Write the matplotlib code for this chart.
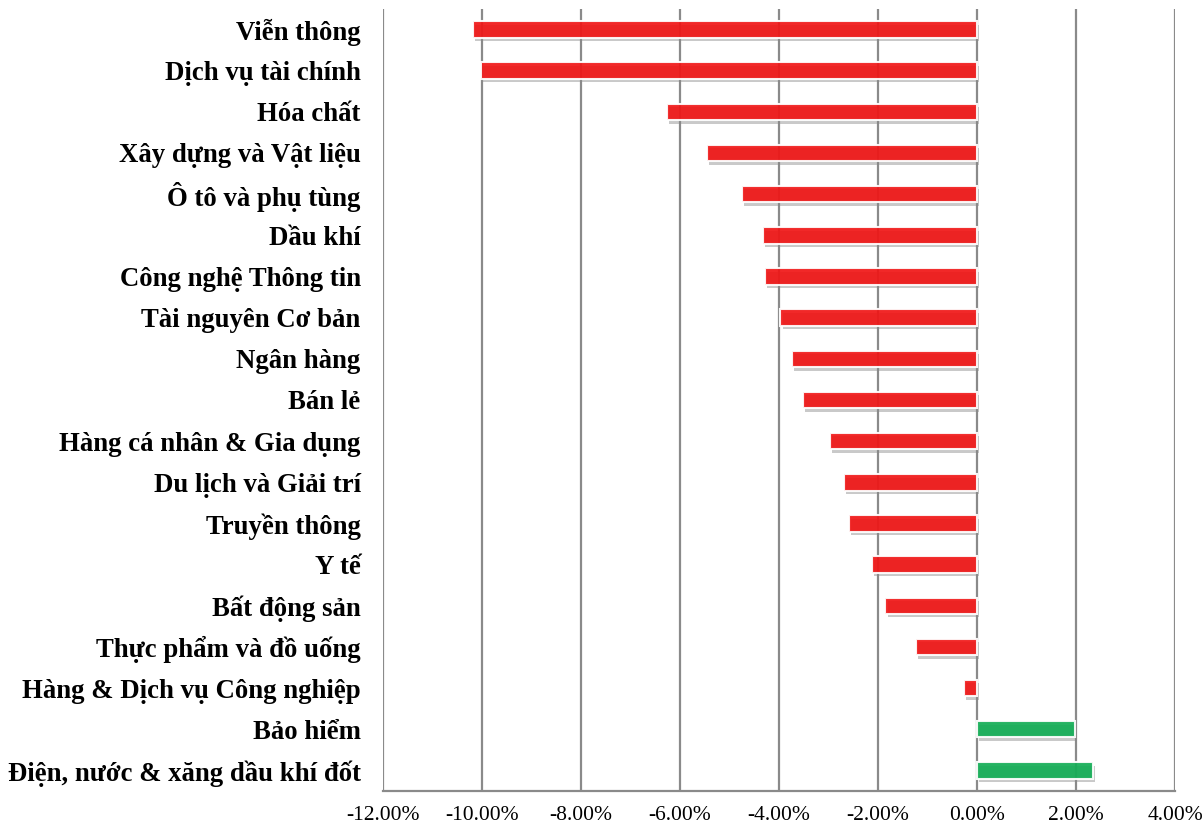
import matplotlib.pyplot as plt
import matplotlib.patheffects as pe
import numpy as np
from matplotlib.ticker import FuncFormatter

sectors = ["Viễn thông", "Dịch vụ tài chính", "Hóa chất", "Xây dựng và Vật liệu",
           "Ô tô và phụ tùng", "Dầu khí", "Công nghệ Thông tin", "Tài nguyên Cơ bản",
           "Ngân hàng", "Bán lẻ", "Hàng cá nhân & Gia dụng", "Du lịch và Giải trí",
           "Truyền thông", "Y tế", "Bất động sản", "Thực phẩm và đồ uống",
           "Hàng & Dịch vụ Công nghiệp", "Bảo hiểm", "Điện, nước & xăng dầu khí đốt"]
change = [-10.18, -10.02, -6.27, -5.46, -4.74, -4.32, -4.28, -3.97, -3.73, -3.52,
          -2.97, -2.69, -2.58, -2.12, -1.85, -1.23, -0.26, 1.97, 2.35]
xticks = [-12, -10, -8, -6, -4, -2, 0, 2, 4]

plt.rcParams['font.family'] = ['Liberation Serif', 'DejaVu Serif']

fig = plt.figure(figsize=(12.04, 8.25), dpi=100)
ax = fig.add_axes([0.318, 0.0412, 0.658, 0.948])

y = np.arange(len(sectors))
colors = ["#F01515" if v < 0 else "#12AD55" for v in change]
bars = ax.barh(y, change, height=0.4, color=colors, alpha=0.92,
               edgecolor="white", linewidth=1.5, zorder=3)
for b in bars:
    b.set_path_effects([pe.SimplePatchShadow(offset=(1.5, -2.5), shadow_rgbFace="#888888", alpha=0.45),
                        pe.Normal()])

ax.set_xlim(-12, 4)
ax.set_ylim(len(sectors) - 0.5, -0.5)
ax.set_xticks(xticks)
ax.xaxis.set_major_formatter(FuncFormatter(lambda v, p: f"{v:.2f}%"))
ax.set_yticks(y)
ax.set_yticklabels(sectors, fontsize=19.3, fontweight="bold")
ax.tick_params(axis="y", length=0, pad=16)
ax.tick_params(axis="x", length=0, pad=11, labelsize=15.5)
ax.grid(axis="x", color="#8a8a8a", linewidth=1.6, zorder=0)
ax.set_axisbelow(True)
for s in ["left", "right", "top"]:
    ax.spines[s].set_visible(False)
ax.spines["bottom"].set_color("#8a8a8a")
ax.spines["bottom"].set_linewidth(1.6)

fig.savefig("out.png", dpi=100)
